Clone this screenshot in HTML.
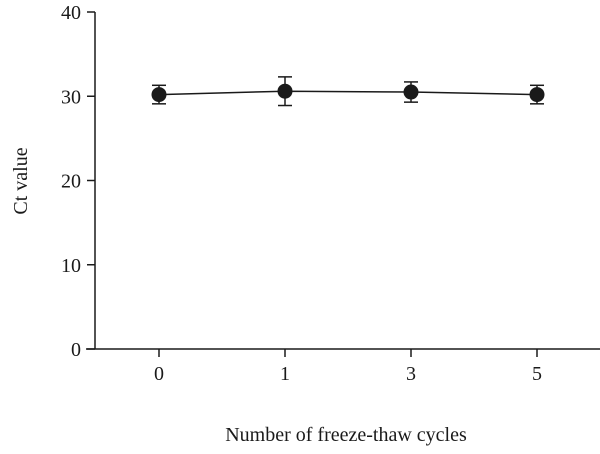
<!DOCTYPE html>
<html><head><meta charset="utf-8"><style>
html,body{margin:0;padding:0;background:#fff;}
svg text{font-family:"Liberation Serif",serif;fill:#1a1a1a;}
</style></head><body>
<svg width="600" height="449" viewBox="0 0 600 449">
<g id="axes"></g>
<g id="marks"></g>
<text x="27" y="181" font-size="20" text-anchor="middle" transform="rotate(-90 27 181)">Ct value</text>
<text x="346" y="441" font-size="20" text-anchor="middle">Number of freeze-thaw cycles</text>
</svg>
<script>
const categories = ["0","1","3","5"];
const ctValues = [30.2, 30.6, 30.5, 30.2];
const ctErrors = [1.1, 1.7, 1.2, 1.1];
const yTicks = [0,10,20,30,40];
const NS="http://www.w3.org/2000/svg";
const y0=349, yTop=12, yMax=40;
function yS(v){return y0-(v/yMax)*(y0-yTop);}
function xS(i){return 159+i*126;}
function mk(tag,attrs,parent){const e=document.createElementNS(NS,tag);for(const k in attrs)e.setAttribute(k,attrs[k]);parent.appendChild(e);return e;}
const ax=document.getElementById('axes'), mg=document.getElementById('marks');
let l=mk('line',{x1:95,y1:yTop,x2:95,y2:y0,stroke:'#1a1a1a','stroke-width':1.5},ax);


l=mk('line',{x1:86,y1:y0,x2:600,y2:y0,stroke:'#1a1a1a','stroke-width':1.5},ax);


yTicks.forEach(v=>{
  const t=mk('line',{x1:87,y1:yS(v),x2:95,y2:yS(v),stroke:'#1a1a1a','stroke-width':1.5},ax);
  
  
  const tx=mk('text',{x:81,y:yS(v)+7,'font-size':20,'text-anchor':'end'},ax);
  tx.textContent=v;
  
  
});
categories.forEach((c,i)=>{
  const t=mk('line',{x1:xS(i),y1:y0,x2:xS(i),y2:y0+8,stroke:'#1a1a1a','stroke-width':1.5},ax);
  
  
  const tx=mk('text',{x:xS(i),y:y0+31,'font-size':20,'text-anchor':'middle'},ax);
  tx.textContent=c;
  
  
});
const pts=ctValues.map((v,i)=>xS(i)+','+yS(v)).join(' ');
const pl=mk('polyline',{points:pts,fill:'none',stroke:'#1a1a1a','stroke-width':1.5},mg);


ctValues.forEach((v,i)=>{
  const x=xS(i), yh=yS(v+ctErrors[i]), yl=yS(v-ctErrors[i]);
  const g=mk('g',{},mg);
  
  
  mk('line',{x1:x,y1:yh,x2:x,y2:yl,stroke:'#1a1a1a','stroke-width':1.5},g);
  mk('line',{x1:x-7,y1:yh,x2:x+7,y2:yh,stroke:'#1a1a1a','stroke-width':1.5},g);
  mk('line',{x1:x-7,y1:yl,x2:x+7,y2:yl,stroke:'#1a1a1a','stroke-width':1.5},g);
  const c=mk('circle',{cx:x,cy:yS(v),r:7.5,fill:'#1a1a1a'},mg);
  
  
});
</script>
</body></html>
